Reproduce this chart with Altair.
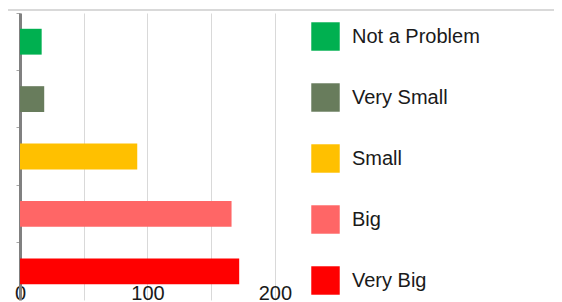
import altair as alt
import pandas as pd

categories = ["Not a Problem", "Very Small", "Small", "Big", "Very Big"]
values = [17, 19, 92, 166, 172]
colors = ["#00B050", "#687C5C", "#FFC000", "#FF6666", "#FF0000"]
x_ticks = [0, 50, 100, 150, 200]

df = pd.DataFrame({"category": categories, "value": values})

FONT = "Liberation Sans"

bars = alt.Chart(df).mark_bar().encode(
    x=alt.X(
        "value:Q",
        scale=alt.Scale(domain=[0, 215], nice=False),
        axis=alt.Axis(
            values=x_ticks,
            labelExpr="datum.value % 100 == 0 ? datum.label : ''",
            grid=True,
            gridColor="#D9D9D9",
            gridWidth=1,
            domain=False,
            ticks=False,
            labelFontSize=20,
            labelFont=FONT,
            labelColor="#1a1a1a",
            offset=-17,
            labelPadding=0,
            labelFlush=False,
            title=None,
        ),
    ),
    y=alt.Y(
        "category:N",
        sort=categories,
        scale=alt.Scale(paddingInner=0.55, paddingOuter=0.275),
        axis=alt.Axis(
            labels=False,
            title=None,
            domainColor="#808080",
            domainWidth=3,
            ticks=True,
            tickColor="#A6A6A6",
            tickSize=4,
            bandPosition=-0.61,
            grid=False,
        ),
    ),
    color=alt.Color(
        "category:N",
        sort=categories,
        scale=alt.Scale(domain=categories, range=colors),
        legend=alt.Legend(
            title=None,
            orient="none",
            legendX=291,
            legendY=9,
            symbolType="square",
            symbolSize=810,
            symbolStrokeWidth=0,
            symbolOpacity=1,
            labelFontSize=20,
            labelFont=FONT,
            labelColor="#1a1a1a",
            rowPadding=32,
            labelOffset=12,
            padding=0,
        ),
    ),
)

one = alt.Data(values=[{"a": 1}])
top_border = alt.Chart(one).mark_rule(color="#D9D9D9", strokeWidth=2).encode(
    x=alt.value(-14), x2=alt.value(540), y=alt.value(-3)
)
left_border = alt.Chart(one).mark_rule(color="#E3E3E3", strokeWidth=1.5).encode(
    x=alt.value(-14), y=alt.value(-3), y2=alt.value(300)
)

chart = (
    alt.layer(top_border, left_border, bars)
    .properties(
        width=274,
        height=287,
        autosize=alt.AutoSizeParams(type="none"),
        padding={"left": 12, "top": 5, "right": 260, "bottom": 2},
        background="white",
    )
    .configure_view(strokeWidth=0)
)

chart.save("out.html", embed_options={"renderer": "svg", "actions": False})
